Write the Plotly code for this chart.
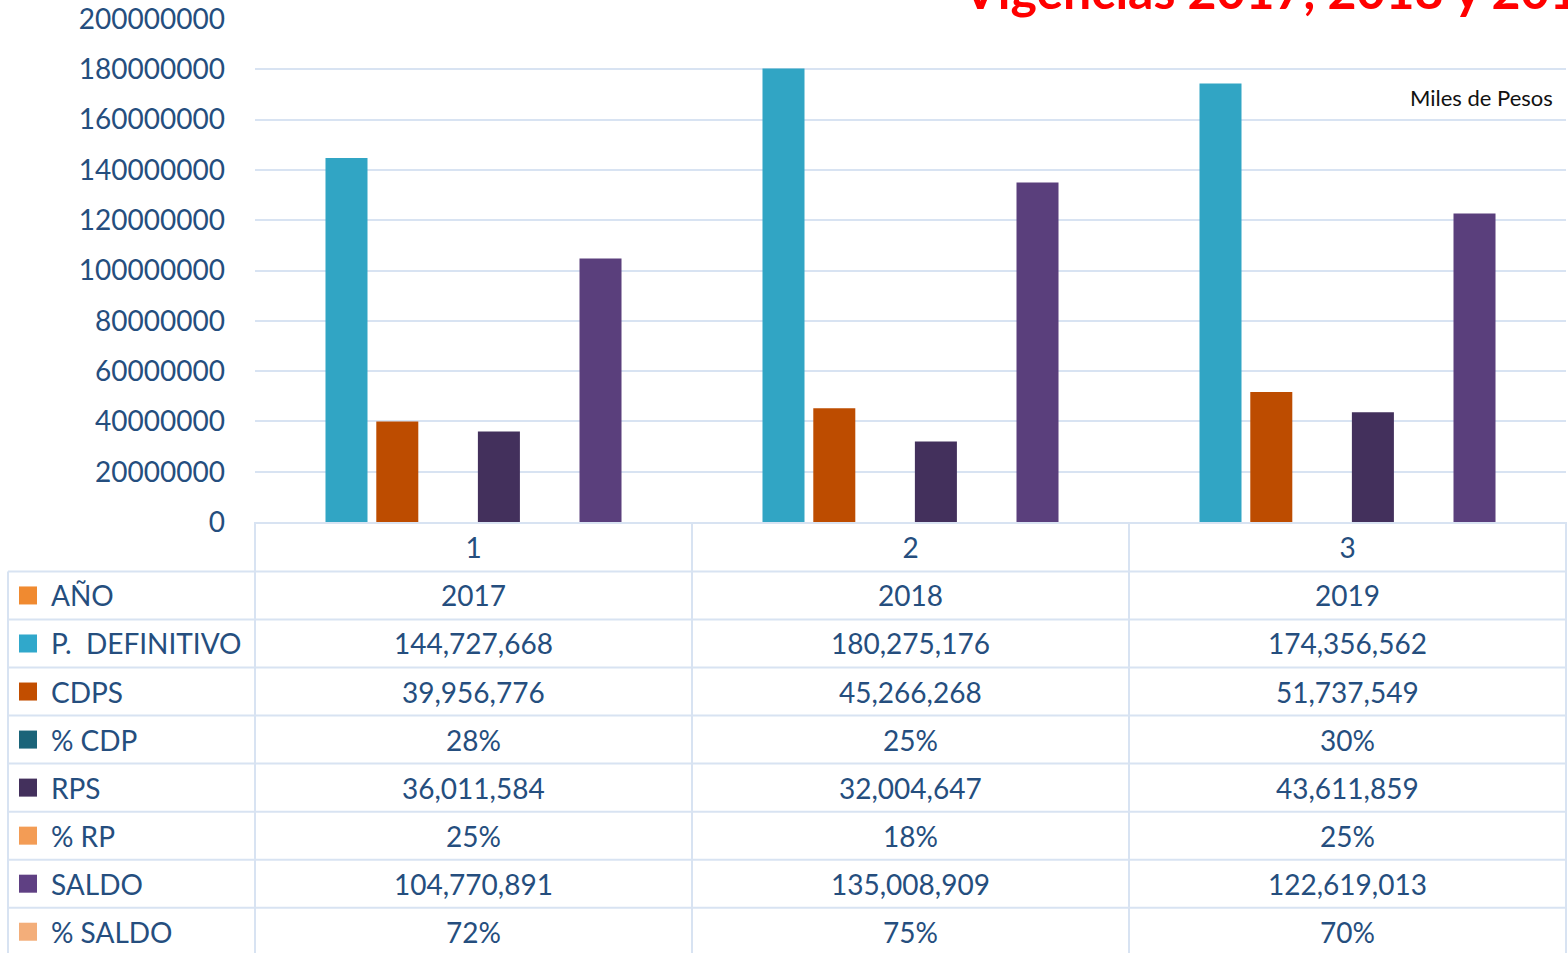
import plotly.graph_objects as go

# ---------------- data ----------------
categories = ["1", "2", "3"]
anio = [2017, 2018, 2019]
p_definitivo = [144727668, 180275176, 174356562]
cdps = [39956776, 45266268, 51737549]
pct_cdp = [0.28, 0.25, 0.30]
rps = [36011584, 32004647, 43611859]
pct_rp = [0.25, 0.18, 0.25]
saldo = [104770891, 135008909, 122619013]
pct_saldo = [0.72, 0.75, 0.70]
y_tick_values = [0, 20000000, 40000000, 60000000, 80000000, 100000000,
                 120000000, 140000000, 160000000, 180000000, 200000000]

series_names = ["AÑO", "P.\u00a0 DEFINITIVO", "CDPS", "% CDP", "RPS", "% RP", "SALDO", "% SALDO"]
series_values = [anio, p_definitivo, cdps, pct_cdp, rps, pct_rp, saldo, pct_saldo]
series_kind = ["year", "money", "money", "pct", "money", "pct", "money", "pct"]
bar_colors = ["#f08a30", "#31a5c4", "#bd4c00", "#1b6479", "#43305c", "#f09a55", "#5a3f7c", "#f0aa78"]
bar_opacity = [0, 1, 1, 1, 1, 1, 1, 1]
key_colors = ["#f08a30", "#30a8cb", "#c24e00", "#1b6479", "#43305c", "#f39c55", "#5f4083", "#f3ae7a"]

title_text = "Vigencias 2017, 2018 y 2019"
unit_text = "Miles de Pesos"

# ---------------- geometry ----------------
W, H = 1568, 953
L, R = 255, 1566
T, B = 19, 521.6
FONT = "Lato, Carlito, 'Liberation Sans', sans-serif"
TXT = "#254e7e"
GRID = "#d8e3f2"


def xp(px):
    return (px - L) / (R - L)


def yp(py):
    return (B - py) / (B - T)


def fmt(v, kind):
    if kind == "year":
        return str(v)
    if kind == "pct":
        return f"{v:.0%}"
    return f"{v:,}"


fig = go.Figure()
for name, vals, col, op in zip(series_names, series_values, bar_colors, bar_opacity):
    fig.add_trace(go.Bar(x=categories, y=vals, name=name, marker_color=col,
                         marker_opacity=op, marker_line_width=0, showlegend=False))

shapes = []
annotations = []

# table horizontal lines
row_h = 48
first_row_top = 571
n_rows = len(series_names)
for r in range(n_rows + 1):
    y = first_row_top + r * row_h
    shapes.append(dict(type="line", xref="paper", yref="paper",
                       x0=xp(8), x1=xp(R), y0=yp(y), y1=yp(y),
                       line=dict(color=GRID, width=2), layer="below"))
# table vertical lines
shapes.append(dict(type="line", xref="paper", yref="paper", x0=xp(8), x1=xp(8),
                   y0=yp(first_row_top), y1=yp(H + 5), line=dict(color=GRID, width=2)))
for i in range(len(categories) + 1):
    x = L + i * (R - L) / len(categories)
    shapes.append(dict(type="line", xref="paper", yref="paper", x0=xp(x), x1=xp(x),
                       y0=yp(B), y1=yp(H + 5), line=dict(color=GRID, width=2)))

# table rows
for r, (name, vals, kind, kc) in enumerate(zip(series_names, series_values, series_kind, key_colors)):
    cy = first_row_top + r * row_h + row_h / 2
    shapes.append(dict(type="rect", xref="paper", yref="paper",
                       x0=xp(19), x1=xp(37), y0=yp(cy - 9), y1=yp(cy + 9),
                       fillcolor=kc, line=dict(width=0)))
    annotations.append(dict(xref="paper", yref="paper", x=xp(49), y=yp(cy),
                            xanchor="left", yanchor="middle", text=name, showarrow=False,
                            font=dict(family=FONT, size=28, color=TXT)))
    for ci, v in enumerate(vals):
        annotations.append(dict(xref="x", yref="paper", x=ci, y=yp(cy),
                                xanchor="center", yanchor="middle", text=fmt(v, kind),
                                showarrow=False, font=dict(family=FONT, size=28, color=TXT)))

# title (cropped at top) and unit note
annotations.append(dict(xref="paper", yref="paper", x=xp(960), y=yp(-9.5),
                        xanchor="left", yanchor="middle", text=f"<b>{title_text}</b>",
                        showarrow=False, font=dict(family=FONT, size=50, color="#ff0000")))
annotations.append(dict(xref="paper", yref="paper", x=xp(1555), y=yp(97),
                        xanchor="right", yanchor="middle", text=unit_text,
                        showarrow=False, font=dict(family=FONT, size=22, color="#111111")))

fig.update_layout(
    width=W, height=H,
    margin=dict(l=L, r=W - R, t=T, b=H - B, autoexpand=False),
    paper_bgcolor="white", plot_bgcolor="white",
    barmode="group", bargap=0.07, bargroupgap=0.173,
    shapes=shapes, annotations=annotations,
    xaxis=dict(type="category", range=[-0.5, len(categories) - 0.5],
               showgrid=False, showline=True, linecolor=GRID, linewidth=2,
               layer="above traces",
               ticks="", ticklabelstandoff=0,
               tickfont=dict(family=FONT, size=28, color=TXT), zeroline=False),
    yaxis=dict(range=[0, 200000000], tickvals=y_tick_values,
               ticktext=[str(v) for v in y_tick_values],
               showgrid=True, gridcolor=GRID, gridwidth=2, zeroline=False,
               showline=False, ticks="", ticklabelstandoff=29,
               tickfont=dict(family=FONT, size=28, color=TXT)),
)

fig.write_html("out.html", config={"displayModeBar": False},
               post_script="document.body.style.margin='0';document.body.style.overflow='hidden';")
